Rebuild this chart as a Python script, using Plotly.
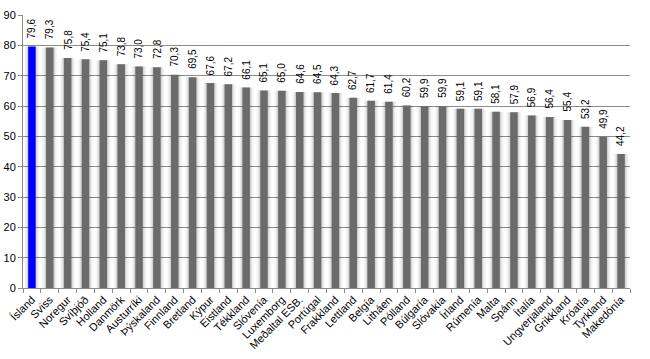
import plotly.graph_objects as go

countries = ["Ísland", "Sviss", "Noregur", "Svíþjóð", "Holland", "Danmörk", "Austurríki",
             "Þýskaland", "Finnland", "Bretland", "Kýpur", "Eistland", "Tékkland", "Slóvenía",
             "Luxemborg", "Meðaltal ESB.", "Portúgal", "Frakkland", "Lettland", "Belgía",
             "Litháen", "Pólland", "Búlgaría", "Slóvakía", "Írland", "Rúmenía", "Malta",
             "Spánn", "Ítalía", "Ungverjaland", "Grikkland", "Króatía", "Tyrkland", "Makedónía"]
values = [79.6, 79.3, 75.8, 75.4, 75.1, 73.8, 73.0, 72.8, 70.3, 69.5, 67.6, 67.2, 66.1, 65.1,
          65.0, 64.6, 64.5, 64.3, 62.7, 61.7, 61.4, 60.2, 59.9, 59.9, 59.1, 59.1, 58.1, 57.9,
          56.9, 56.4, 55.4, 53.2, 49.9, 44.2]
highlight = "Ísland"

colors = ["#0000FF" if c == highlight else "#6B6B6B" for c in countries]

fig = go.Figure()
# soft glow layers behind bars
for w, a in [(0.88, 0.025), (0.75, 0.04), (0.62, 0.055), (0.52, 0.075)]:
    fig.add_trace(go.Bar(x=countries, y=values, width=w,
                         marker=dict(color=f"rgba(0,0,0,{a})", line=dict(width=0)),
                         hoverinfo="skip", showlegend=False))
fig.add_trace(go.Bar(x=countries, y=values, width=0.42,
                     marker=dict(color=colors, line=dict(width=0)),
                     showlegend=False))

for c, v in zip(countries, values):
    fig.add_annotation(x=c, y=v, text=f"{v:.1f}".replace(".", ","), textangle=-90,
                       showarrow=False, yanchor="bottom", xanchor="center", yshift=6,
                       font=dict(family="Arial", size=10, color="#000000"))

fig.update_layout(
    width=650, height=359,
    margin=dict(l=23, r=20, t=15, b=71),
    paper_bgcolor="white", plot_bgcolor="white",
    barmode="overlay", separators=",.",
    font=dict(family="Arial", size=11, color="#000000"),
)
fig.update_yaxes(range=[0, 90], dtick=10, showgrid=True, gridcolor="#8C8C8C", gridwidth=1,
                 showline=True, linecolor="#8C8C8C", ticks="outside", ticklen=4,
                 tickcolor="#8C8C8C", tickfont=dict(size=11), zeroline=False,
                 automargin=False)
fig.update_xaxes(tickangle=-45, showline=True, linecolor="#8C8C8C", ticks="outside",
                 tickson="boundaries", ticklen=4, tickcolor="#8C8C8C",
                 tickfont=dict(size=11), showgrid=False, automargin=False)

fig.write_html("out.html", config={"displayModeBar": False},
               post_script="document.body.style.margin='0';")
